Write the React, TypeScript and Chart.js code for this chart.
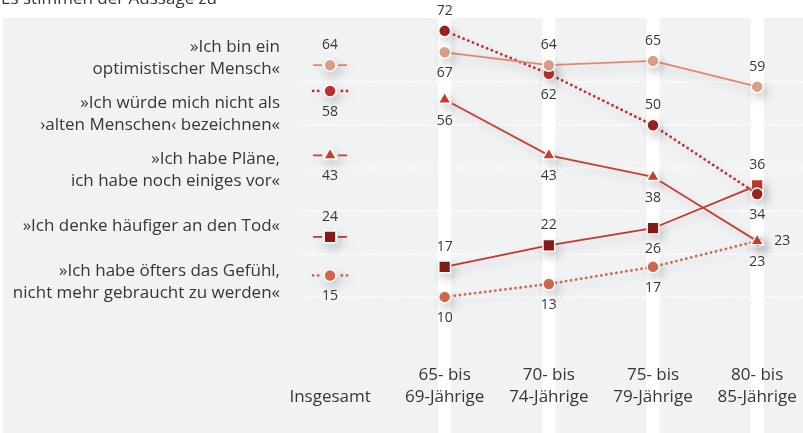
import React, { useEffect, useRef } from 'react';
import { Chart, registerables } from 'chart.js';

Chart.register(...registerables);

const FONT = '"Open Sans", "Noto Sans", sans-serif';
const TEXT = '#363636';

// ---- data ----
const title = 'Es stimmen der Aussage zu';
const columnLabels = [
  ['', 'Insgesamt'],
  ['65- bis', '69-Jährige'],
  ['70- bis', '74-Jährige'],
  ['75- bis', '79-Jährige'],
  ['80- bis', '85-Jährige'],
];
// category positions on the x axis (Insgesamt column stands a little apart)
const columnPositions = [0, 1.1, 2.1, 3.1, 4.1];

const statements = [
  ['»Ich bin ein', 'optimistischer Mensch«'],
  ['»Ich würde mich nicht als', '›alten Menschen‹ bezeichnen«'],
  ['»Ich habe Pläne,', 'ich habe noch einiges vor«'],
  ['»Ich denke häufiger an den Tod«'],
  ['»Ich habe öfters das Gefühl,', 'nicht mehr gebraucht zu werden«'],
];

const optimist = [64, 67, 64, 65, 59];
const nichtAlt = [58, 72, 62, 50, 34];
const plaene = [43, 56, 43, 38, 23];
const tod = [24, 17, 22, 26, 36];
const nichtGebraucht = [15, 10, 13, 17, 23];

const gridValues = [10, 20, 30, 40, 50, 60];

// ---- label placement (style) ----
const labelPlacement = [
  ['above', 'below', 'above', 'above', 'above'],
  ['below', 'above', 'below', 'above', 'below'],
  ['below', 'below', 'below', 'below', 'below'],
  ['above', 'above', 'above', 'below', 'above'],
  ['below', 'below', 'below', 'below', 'right'],
];

const seriesValues = [optimist, nichtAlt, plaene, tod, nichtGebraucht];
const seriesLine = ['#e4866c', '#c4302a', '#c8412f', '#c4372c', '#d5694c'];
const seriesPoint = [
  ['#e0a088', '#e0a088', '#e0a088', '#e0a088', '#e0a088'],
  ['#c4302a', '#9c221b', '#c4302a', '#9c221b', '#9c221b'],
  ['#c8412f', '#c8412f', '#c8412f', '#c8412f', '#c8412f'],
  ['#8a1a12', '#8a1a12', '#8a1a12', '#8a1a12', '#c4372c'],
  ['#d5694c', '#d5694c', '#d5694c', '#d5694c', '#d5694c'],
];
const seriesShape = ['circle', 'circle', 'triangle', 'rect', 'circle'];
const seriesRadius = [6, 6, 7.5, 8.3, 6];
const seriesDotted = [false, true, false, false, true];
const seriesOrder = [0, 2, 1, 3, 4];

const backgroundPlugin = {
  id: 'panel',
  beforeDraw(chart: any) {
    const { ctx, chartArea, width, height } = chart;
    ctx.save();
    ctx.fillStyle = '#ffffff';
    ctx.fillRect(0, 0, width, height);
    ctx.fillStyle = '#f1f2f4';
    ctx.fillRect(3, chartArea.top, width - 3, height - chartArea.top);
    // white column bands
    const xs = chart.scales.x;
    ctx.fillStyle = '#ffffff';
    columnPositions.forEach((p, i) => {
      if (i === 0) return;
      const px = xs.getPixelForValue(p);
      ctx.fillRect(px - 6.5, chartArea.top, 13, height - chartArea.top);
    });
    // title
    ctx.fillStyle = TEXT;
    ctx.font = `17px ${FONT}`;
    ctx.textAlign = 'left';
    ctx.textBaseline = 'alphabetic';
    ctx.fillText(title, 1, 4);
    // statement labels
    ctx.font = `17px ${FONT}`;
    ctx.textAlign = 'right';
    ctx.textBaseline = 'middle';
    statements.forEach((lines, i) => {
      const cy = chartArea.top + 40 + 56 * i;
      const start = cy - ((lines.length - 1) * 22) / 2;
      lines.forEach((t, j) => ctx.fillText(t, 280, start + j * 22));
    });
    ctx.restore();
  },
};

const markPlugin = {
  id: 'marks',
  beforeDatasetDraw(chart: any, args: any) {
    const ctx = chart.ctx;
    const i = args.index;
    ctx.save();
    ctx.shadowColor = 'rgba(60,60,75,0.22)';
    ctx.shadowBlur = 10;
    ctx.shadowOffsetX = 3;
    ctx.shadowOffsetY = 5;
    const p = args.meta.data[0];
    if (p) {
      ctx.save();
      ctx.strokeStyle = seriesLine[i];
      if (seriesDotted[i]) {
        ctx.lineWidth = 2.8;
        ctx.lineCap = 'round';
        ctx.setLineDash([0.1, 5]);
      } else {
        ctx.lineWidth = 1.8;
        ctx.setLineDash([]);
      }
      ctx.beginPath();
      ctx.moveTo(p.x - 17, p.y);
      ctx.lineTo(p.x - 8, p.y);
      ctx.moveTo(p.x + 17, p.y);
      ctx.lineTo(p.x + 8, p.y);
      ctx.stroke();
      ctx.restore();
    }
  },
  afterDatasetDraw(chart: any) {
    chart.ctx.restore();
  },
  afterDatasetsDraw(chart: any) {
    const ctx = chart.ctx;
    ctx.save();
    ctx.fillStyle = TEXT;
    ctx.font = `14px ${FONT}`;
    ctx.textBaseline = 'middle';
    chart.data.datasets.forEach((ds: any, i: number) => {
      const meta = chart.getDatasetMeta(i);
      meta.data.forEach((pt: any, j: number) => {
        const v = seriesValues[i][j];
        const pos = labelPlacement[i][j];
        if (pos === 'right') {
          ctx.textAlign = 'left';
          ctx.fillText(String(v), pt.x + 17, pt.y);
        } else {
          ctx.textAlign = 'center';
          ctx.fillText(String(v), pt.x, pos === 'above' ? pt.y - 20 : pt.y + 21);
        }
      });
    });
    ctx.restore();
  },
};

export default function App() {
  const ref = useRef<HTMLCanvasElement | null>(null);

  useEffect(() => {
    if (!ref.current) return;
    const datasets = seriesValues.map((values, i) => ({
      label: statements[i].join(' '),
      data: values.map((v, j) => ({ x: columnPositions[j], y: v })),
      order: seriesOrder[i],
      borderColor: seriesLine[i],
      borderWidth: seriesDotted[i] ? 2.8 : 1.8,
      borderDash: seriesDotted[i] ? [0.1, 5] : [],
      borderCapStyle: seriesDotted[i] ? 'round' : 'butt',
      pointStyle: seriesShape[i],
      pointRadius: seriesRadius[i],
      pointBackgroundColor: seriesPoint[i],
      pointBorderColor: '#ffffff',
      pointBorderWidth: 1.5,
      tension: 0,
      clip: false,
      segment: {
        borderColor: (c: any) => (c.p0DataIndex === 0 ? 'rgba(0,0,0,0)' : undefined),
      },
    }));

    const chart = new Chart(ref.current, {
      type: 'line',
      data: { datasets: datasets as any },
      options: {
        animation: false,
        responsive: false,
        layout: { autoPadding: false, padding: { top: 18, left: 303, right: 0, bottom: 25 } },
        plugins: { legend: { display: false }, tooltip: { enabled: false } },
        scales: {
          x: {
            type: 'linear',
            min: -0.26,
            max: 4.54,
            afterBuildTicks: (axis: any) => {
              axis.ticks = columnPositions.map((v) => ({ value: v }));
            },
            afterFit: (axis: any) => {
              axis.paddingLeft = 0;
              axis.paddingRight = 0;
            },
            ticks: {
              autoSkip: false,
              maxRotation: 0,
              padding: 0,
              color: TEXT,
              font: { family: FONT, size: 17, lineHeight: 1.3 },
              callback: (_v: any, idx: number) => columnLabels[idx],
            },
            grid: {
              display: true,
              drawOnChartArea: false,
              drawTicks: true,
              tickLength: 24,
              color: 'rgba(0,0,0,0)',
            },
            border: { display: false },
          },
          y: {
            type: 'linear',
            min: 0,
            max: 75,
            afterBuildTicks: (axis: any) => {
              axis.ticks = gridValues.map((v) => ({ value: v }));
            },
            ticks: { display: false },
            grid: { color: '#ffffff', lineWidth: 2, drawTicks: false },
            border: { display: false, dash: [2, 2.4] },
          },
        },
      },
      plugins: [backgroundPlugin, markPlugin],
    } as any);

    return () => chart.destroy();
  }, []);

  return (
    <div style={{ position: 'absolute', left: 0, top: 0, width: 803, height: 433 }}>
      <canvas ref={ref} width={803} height={433} style={{ display: 'block' }} />
    </div>
  );
}
